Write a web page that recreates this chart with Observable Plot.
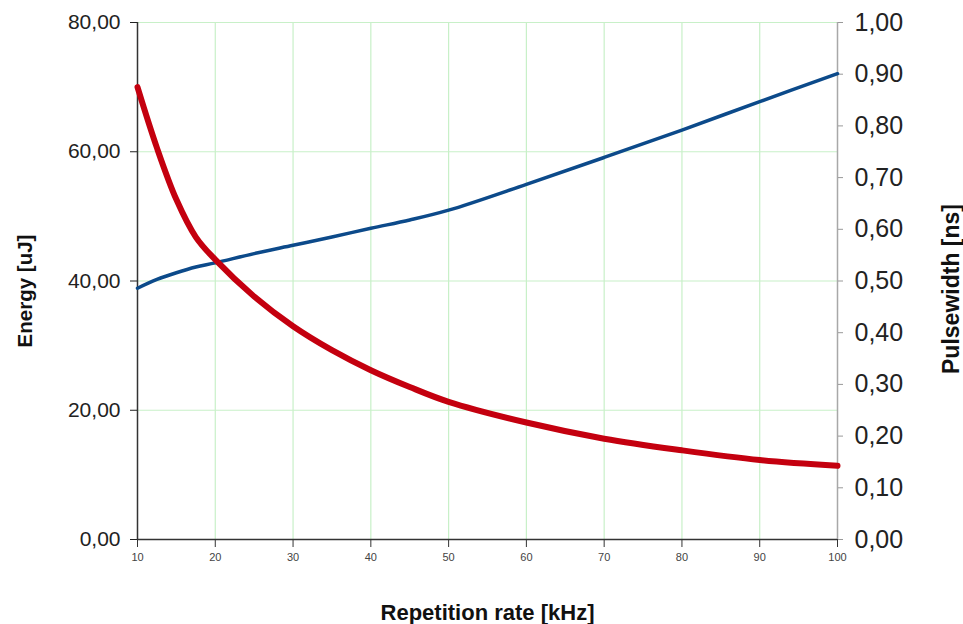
<!DOCTYPE html>
<html>
<head>
<meta charset="utf-8">
<script src="https://cdn.jsdelivr.net/npm/d3@7"></script>
<script src="https://cdn.jsdelivr.net/npm/@observablehq/plot@0.6"></script>
<style>
  html, body { margin: 0; padding: 0; background: #fff; }
  #chart svg { font-family: "Liberation Sans", Arial, sans-serif; }
</style>
</head>
<body>
<div id="chart"></div>
<script>
const freq = [10, 12.5, 15, 17.5, 20, 25, 30, 35, 40, 45, 50, 60, 70, 80, 90, 100];
const energy = [70, 60.6, 52.6, 46.8, 43.3, 37.6, 33.0, 29.3, 26.2, 23.6, 21.3, 18.1, 15.6, 13.8, 12.3, 11.4];
const pulsewidth = [0.486, 0.503, 0.516, 0.527, 0.535, 0.553, 0.569, 0.585, 0.602, 0.618, 0.637, 0.687, 0.739, 0.792, 0.847, 0.901];
const xTicks = [10, 20, 30, 40, 50, 60, 70, 80, 90, 100];
const energyTicks = [0, 20, 40, 60, 80];
const pulseTicks = [0, 0.1, 0.2, 0.3, 0.4, 0.5, 0.6, 0.7, 0.8, 0.9, 1.0];
const xTitle = "Repetition rate [kHz]";
const leftTitle = "Energy [uJ]";
const rightTitle = "Pulsewidth [ns]";

const pwScale = 80; // right axis 0..1 mapped onto left 0..80
const comma = v => v.toFixed(2).replace(".", ",");

const data = freq.map((f, i) => ({f, e: energy[i], p: pulsewidth[i] * pwScale}));

const chart = Plot.plot({
  width: 963,
  height: 624,
  marginLeft: 137,
  marginRight: 126,
  marginTop: 22,
  marginBottom: 85,
  x: {domain: [10, 100]},
  y: {domain: [0, 80]},
  marks: [
    Plot.ruleX(xTicks.filter(d => d > 10 && d < 100), {stroke: "#c8f0c8", strokeWidth: 1.2}),
    Plot.ruleY(energyTicks.filter(d => d > 0), {stroke: "#c8f0c8", strokeWidth: 1.2}),
    Plot.ruleX([100], {stroke: "#a8a8a8", strokeWidth: 1.5}),
    Plot.ruleX([10], {stroke: "#333", strokeWidth: 1.5}),
    Plot.ruleY([0], {stroke: "#333", strokeWidth: 1.5}),
    Plot.axisX({ticks: xTicks, tickSize: 8, tickPadding: 6, fontSize: 11, color: "#444", stroke: "#333", label: null}),
    Plot.axisY({anchor: "left", ticks: energyTicks, tickSize: 7, tickPadding: 10, fontSize: 21, color: "#222",
      tickFormat: comma, label: null}),
    Plot.axisY({anchor: "right", ticks: pulseTicks.map(d => d * pwScale), tickSize: 5, tickPadding: 12, fontSize: 25, color: "#222",
      stroke: "#999", tickFormat: d => comma(d / pwScale), label: null}),
    Plot.text([xTitle], {frameAnchor: "bottom", textAnchor: "middle", lineAnchor: "bottom", dy: 80, fontSize: 22, fontWeight: "bold", fill: "#111"}),
    Plot.text([leftTitle], {frameAnchor: "left", textAnchor: "middle", lineAnchor: "middle", rotate: -90, dx: -112, dy: 10, fontSize: 20.5, fontWeight: "bold", fill: "#111"}),
    Plot.text([rightTitle], {frameAnchor: "right", textAnchor: "middle", lineAnchor: "middle", rotate: -90, dx: 114, dy: 8, fontSize: 23, fontWeight: "bold", fill: "#111"}),
    Plot.line(data, {x: "f", y: "p", stroke: "#0c4a8a", strokeWidth: 3.5, curve: "catmull-rom"}),
    Plot.line(data, {x: "f", y: "e", stroke: "#c4000f", strokeWidth: 6, curve: "catmull-rom"})
  ]
});
document.getElementById("chart").appendChild(chart);
</script>
</body>
</html>
